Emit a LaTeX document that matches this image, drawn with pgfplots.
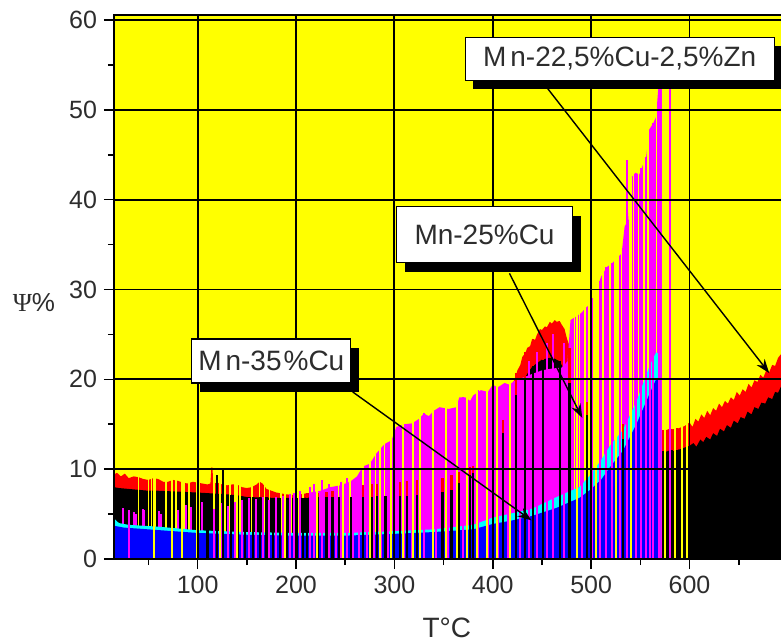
\documentclass[border=0pt]{standalone}
\usepackage{pgfplots}
\pgfplotsset{compat=1.18}
\usepackage{fontspec}
\setmainfont{Liberation Sans}
\newfontfamily\seriffont{Liberation Serif}
\usetikzlibrary{shadows,arrows.meta}
\definecolor{cyel}{RGB}{255,255,0}
\definecolor{cred}{RGB}{255,0,0}
\definecolor{cmag}{RGB}{255,0,255}
\definecolor{ccya}{RGB}{0,255,255}
\definecolor{cblu}{RGB}{0,0,255}
\definecolor{ctxt}{RGB}{45,45,45}
\begin{document}
\begin{tikzpicture}
\begin{axis}[
  name=ax,
  scale only axis, width=333.5pt, height=272pt,
  xmin=15, xmax=693, ymin=0, ymax=60.56,
  axis on top,
  axis background/.style={fill=cyel},
  axis line style={draw=none},
  xtick={100,200,...,600}, minor xtick={50,150,...,650},
  ytick={0,10,...,60}, minor ytick={5,15,...,55},
  tick align=outside, tick pos=left,
  major tick length=5pt, minor tick length=3pt,
  grid=major, major grid style={black, line width=0.9pt},
  every tick/.style={black, line width=0.8pt},
  /pgf/number format/assume math mode=true,
  ticklabel style={font=\fontsize{12.5}{14}\selectfont, text=ctxt},
  xlabel={T°C}, ylabel={{\seriffont Ψ}\%},
  every axis x label/.style={at={(axis description cs:0.499,-0.127)}, anchor=center, font=\fontsize{14}{16}\selectfont, text=ctxt},
  every axis y label/.style={at={(axis description cs:-0.12,0.472)}, anchor=center, font=\fontsize{13}{15}\selectfont, text=ctxt},
]
% red envelope
\addplot[fill=cred, draw=none] coordinates {(15,9.4)(18,9.6)(22,9.2)(26,9.5)(30,9.0)(35,9.2)(40,9.1)(45,8.9)(50,8.8)(55,9.0)(60,8.9)(65,8.6)(70,8.6)(75,8.8)(80,8.7)(85,8.5)(90,8.4)(95,8.6)(100,8.5)(105,8.4)(110,8.3)(113,8.4)(114,10.2)(115,10.2)(116,8.4)(120,8.5)(125,8.3)(130,8.2)(135,8.3)(140,8.3)(145,8.0)(150,7.9)(155,8.0)(160,8.3)(163,8.6)(166,8.4)(170,7.8)(175,7.6)(180,7.4)(185,7.3)(190,7.2)(200,7.1)(210,7.3)(220,7.4)(230,7.5)(240,7.7)(250,7.8)(260,8.0)(270,8.2)(280,8.3)(290,8.5)(300,8.6)(320,8.8)(340,8.9)(360,9.3)(370,9.8)(380,10.3)(390,11.8)(400,13.3)(405,13.8)(410,15.5)(415,17)(420,19.5)(423,20.2)(425,21)(428,21.6)(430,22.5)(433,22.9)(435,23.5)(438,23.7)(440,24.5)(443,24.4)(445,25)(448,25.6)(450,25.5)(453,25.9)(455,25.8)(458,26.4)(460,26.2)(463,26.6)(465,26.4)(468,26.5)(470,26.1)(473,25.6)(475,24.7)(480,23)(485,21)(490,19)(495,17.8)(500,17)(510,16)(520,15.5)(530,15)(540,14.8)(550,14.6)(560,14.5)(570,14.4)(575,14.3)(580,14.5)(585,14.4)(590,14.6)(595,14.8)(600,15.2)(603,14.7)(606,15.6)(609,15.3)(612,16.1)(615,15.7)(618,16.5)(621,16.0)(624,16.8)(627,16.5)(630,17.3)(633,16.9)(636,17.6)(639,17.3)(642,18.0)(645,17.7)(648,18.6)(651,18.2)(654,18.9)(657,18.6)(660,19.5)(663,19.1)(666,19.9)(669,19.7)(672,20.5)(675,20.2)(678,21.0)(681,20.8)(684,21.6)(687,21.5)(690,22.4)(693,22.8)} \closedcycle;
% black
\addplot[fill=black, draw=none] coordinates {(15,8.0)(20,7.9)(30,7.8)(40,7.7)(50,7.6)(60,7.6)(80,7.5)(100,7.4)(115,7.3)(130,7.2)(140,7.1)(150,6.9)(165,6.85)(180,6.8)(200,6.8)(225,6.85)(250,6.9)(275,6.95)(300,7.0)(325,7.1)(340,7.2)(350,7.5)(360,7.8)(370,8.7)(380,9.6)(390,11)(400,12.6)(410,14)(415,15.8)(420,17.5)(425,18.8)(430,19.6)(435,20.6)(440,21.4)(445,21.8)(450,22.2)(458,22.4)(463,22.3)(468,22)(473,21)(478,19.6)(485,18.2)(491,17)(500,15.5)(510,14.6)(520,14)(530,13.5)(540,13)(550,12.6)(560,12.3)(570,12.0)(575,11.9)(580,12.1)(590,12.2)(600,12.6)(604,12.9)(607,12.5)(611,13.3)(614,13.0)(617,13.6)(621,13.3)(624,14.0)(628,13.7)(631,14.5)(635,14.2)(638,14.9)(642,14.6)(645,15.4)(649,15.1)(652,15.8)(656,15.6)(659,16.4)(663,16.1)(666,16.9)(670,16.7)(673,17.4)(677,17.3)(680,18.0)(684,17.8)(687,18.6)(690,18.5)(693,19.2)} \closedcycle;
% magenta area
\addplot[fill=cmag, draw=none] coordinates {(215,7.4)(225,7.6)(235,8.0)(245,8.2)(255,8.6)(262,9.2)(268,10.3)(275,10.6)(282,11.8)(290,12.8)(297,13.2)(302,14.7)(310,15)(318,15.1)(325,15.6)(330,16.2)(335,15.9)(340,16.5)(346,16.9)(355,16.7)(363,16.9)(366,18)(372,18)(377,17.6)(380,18.2)(388,18.8)(395,18.6)(400,19.4)(405,19.1)(412,19.6)(417,19.4)(424,20)(431,20.2)(440,20.6)(450,21)(460,21.2)(470,21.3)(476,22)(479,26.6)(485,27)(490,27.4)(495,28)(500,28.5)(504,29.6)(510,31.4)(516,32.5)(522,33)(527,33.6)(531,34)(534,37)(538,37.8)(541,42.5)(545,43)(549,42.8)(553,44)(556,44.8)(559,47.8)(563,48.5)(566,49.2)(569,53.5)(572,53.5)} \closedcycle;
% magenta spikes above the blue (left part)
\addplot[ycomb, cmag, line width=1pt, no marks] coordinates {(24,5.7)(35,5.2)(37,5.0)(44,5.6)(46,5.4)(61,5.3)(63,5.0)(80,5.5)(88,6.0)(93,5.8)(104,6.4)};
% yellow gaps above the blue
\addplot[ycomb, cyel, line width=0.8pt, no marks] coordinates {(40,60)(50,60)(53,60)(57,60)(68,60)(78,60)(86,60)(91,60)(102,60)(116.5,60)(128,60)(133,60)(138,60)(143,60)(155,60)(163,60)(168,60)(173,60)(185,60)(195,60)(202,60)(207,60)(214,60)(222,60)(227,60)(243,60)(255,60)(268,60)(281,60)(290,60)(483,60)(488,60)(494,60)(498,60)(503,60)(507,60)(512,60)(519,60)(524,60)(527,60)(531,60)(539,60)(543,60)(548,60)(554,60)(558,60)(566.5,60)};
% cyan and blue (Mn-35%Cu)
\addplot[fill=ccya, draw=none] coordinates {(15,4.5)(20,4.0)(30,3.8)(60,3.6)(100,3.2)(150,3.0)(200,2.9)(250,2.9)(300,3.1)(340,3.3)(380,3.8)(400,4.6)(420,5.1)(440,5.6)(465,6.9)(488,8.0)(498,9.2)(510,11)(519,12.6)(532,14.3)(546,17.5)(559,21.4)(566,23)(570,22.8)} \closedcycle;
\addplot[fill=cblu, draw=none] coordinates {(15,3.7)(25,3.5)(50,3.3)(100,2.9)(150,2.7)(200,2.6)(250,2.6)(300,2.8)(340,3.0)(380,3.3)(400,3.9)(420,4.3)(440,4.8)(465,5.7)(488,6.8)(498,7.6)(510,8.8)(519,10.2)(532,12.0)(546,15.0)(559,18.3)(566,20.0)(570,20)} \closedcycle;
% red caps and black lines
\addplot[ycomb, cred, line width=1.1pt, no marks] coordinates {(211,7.3)(222,7.4)(231,7.5)(237,7.6)(268,8.2)(277,8.3)(282,8.4)(306,8.6)(313,8.7)(323,8.8)(349,9.0)(358,9.3)(366,9.7)(377,10.2)(380,10.3)(400,13.3)(410,15.5)(424,20.7)(433,23)(441,24.5)(451,25.5)(468,26.3)(478,23.5)(496,17.5)(532,15)(573,14.4)(584,14.5)(587,14.6)};
\addplot[ycomb, black, line width=1.1pt, no marks] coordinates {(110,7.35)(120,9.4)(126,10.0)(134,7.15)(141,7.05)(148,6.95)(156,6.9)(163,6.85)(170,6.85)(177,6.8)(184,6.8)(191,6.8)(201,6.8)(207,6.8)(211,6.8)(222,6.85)(231,6.85)(237,6.9)(244,6.9)(256,6.9)(268,6.95)(277,6.95)(282,7.0)(291,7.0)(306,7.0)(313,7.05)(323,7.1)(349,7.5)(358,7.7)(366,8.5)(377,9.3)(380,9.6)(400,12.6)(410,14)(424,18.3)(433,20.1)(441,21.5)(451,22.2)(468,22)(478,19.6)(496,16)(532,13.4)(573,12)(584,12)(587,12.1)};
% magenta spikes through the blue (Mn-25%Cu)
\addplot[ycomb, cmag, line width=1pt, no marks] coordinates {(30,5.5)(117,5.6)(124,6.2)(131,5.9)(138,6.4)(145,6.6)(152,6.8)(159,6.7)(166,6.9)(173,6.6)(180,6.9)(187,7.0)(194,7.2)(198,7.3)(204,7.6)(214,8.0)(218,8.4)(226,8.8)(234,8.3)(241,7.8)(246,8.6)(252,9.0)(258,8.7)(264,9.1)(272,9.4)(279,10.0)(286,11.2)(294,12.8)(300,13.5)(310,15)(318,15)(330,16.2)(342,16.6)(355,16.7)(370,18)(385,18.8)(395,18.6)(405,19.1)(415,19.4)(428,20.1)(437,22)(445,23)(455,24)(461,25)(472,24)(491,27.4)(501,29)(509,31)(515,32.5)(521,33)(529,33.6)(536,44.4)(546,42.5)(551,43.5)(556,44.8)(560,47.8)(563,48.5)(569,53.5)(580,53.5)};
% yellow gaps through everything
\addplot[ycomb, cyel, line width=1pt, no marks] coordinates {(55.6,60)(74,60)(84,60)(99,60)(122.7,60)(140,60)(189,60)(221,60)(248,60)(275,60)(285,60)(297,60)(309,60)(319,60)(326,60)(339,60)(352,60)(364,60)(374,60)(384,60)(394,60)(404,60)(418,60)(486,60)(505,60)(525,60)(541,60)(575,60)(585,60)(592,60)(597,60)};
\coordinate (b1) at (axis cs:529,55.7);
\coordinate (b2) at (axis cs:391.65,36.1);
\coordinate (b3) at (axis cs:174.9,22.05);
\coordinate (a1s) at (axis cs:455.6,52.4);
\coordinate (a1e) at (axis cs:681,20.7);
\coordinate (a2s) at (axis cs:417,31.8);
\coordinate (a2e) at (axis cs:491,15.7);
\coordinate (a3s) at (axis cs:257.6,18.6);
\coordinate (a3e) at (axis cs:439.4,4.3);
\end{axis}
\draw[black, line width=1pt] (ax.north east) -- (ax.north west) -- (ax.south west) -- (ax.south east);
\begin{scope}[line width=0.7pt, -{Stealth[length=7pt,width=5pt]}]
\draw (a1s) -- (a1e);
\draw (a2s) -- (a2e);
\draw (a3s) -- (a3e);
\end{scope}
\tikzset{lbl/.style={draw=black, line width=0.6pt, fill=white, text=ctxt, font=\fontsize{14}{16}\selectfont, inner sep=0pt, align=center,
  drop shadow={shadow xshift=4pt, shadow yshift=-4.5pt, fill=black, opacity=1}}}
\node[lbl, minimum width=154.5pt, minimum height=21.5pt] at (b1) {M\kern2pt n-22,5\%Cu-2,5\%Zn};
\node[lbl, minimum width=88pt, minimum height=28pt] at (b2) {Mn-25\%Cu};
\node[lbl, minimum width=79.5pt, minimum height=22pt] at (b3) {M\kern2pt n-35\kern1pt\%Cu};
\pgfresetboundingbox
\path[use as bounding box] (-57pt,-42pt) rectangle (333.5pt,279.5pt);
\end{tikzpicture}
\end{document}
